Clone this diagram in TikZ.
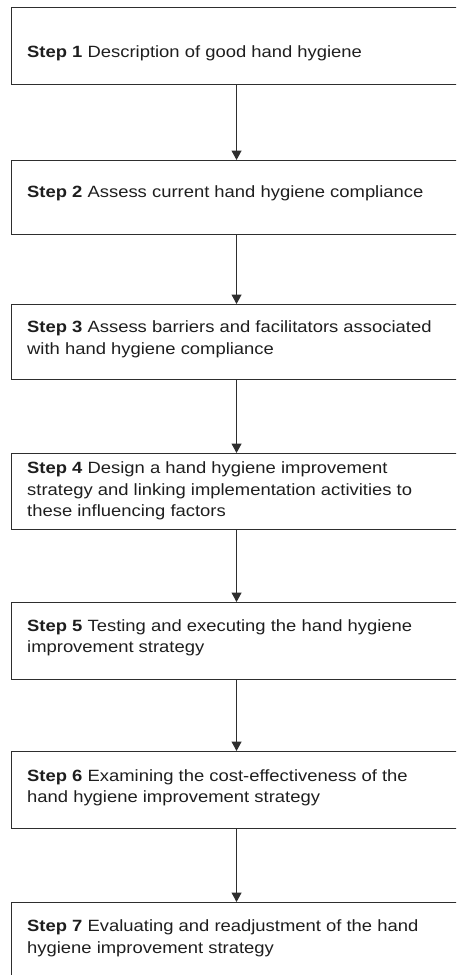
\documentclass[tikz,border=0pt]{standalone}
\usepackage{fontspec}
\setmainfont{Liberation Sans}[FakeStretch=1.13]
\usetikzlibrary{arrows.meta}
\definecolor{ink}{HTML}{1E1E1E}
\definecolor{edge}{HTML}{2E2E2E}
\begin{document}
\begin{tikzpicture}[x=1pt,y=-1pt,
  stepbox/.style={draw=edge,line width=1.1pt,rectangle,anchor=north west,minimum width=450pt,inner sep=0pt},
  steptext/.style={anchor=base west,inner sep=0pt,align=left,text=ink,font=\fontsize{16.3pt}{21.5pt}\selectfont},
  flow/.style={draw=edge,line width=1.1pt,-{Triangle[width=10pt,length=9.5pt]}}]
\useasboundingbox (0,0) rectangle (456,975);
\clip (0,0) rectangle (456,975);
\node[stepbox,minimum height=77pt] (b1) at (11,7) {};
\node[stepbox,minimum height=74pt] (b2) at (11,160) {};
\node[stepbox,minimum height=75pt] (b3) at (11,304) {};
\node[stepbox,minimum height=76pt] (b4) at (11,453) {};
\node[stepbox,minimum height=77pt] (b5) at (11,602) {};
\node[stepbox,minimum height=77pt] (b6) at (11,751) {};
\node[stepbox,minimum height=90pt] (b7) at (11,902) {};
% base anchor of a multi-line node is the baseline of its last line
\node[steptext] (t1) at (27,57.3) {\textbf{Step 1} Description of good hand hygiene};
\node[steptext] (t2) at (27,197.3) {\textbf{Step 2} Assess current hand hygiene compliance};
\node[steptext] (t3) at (27,354) {\textbf{Step 3} Assess barriers and facilitators associated\\with hand hygiene compliance};
\node[steptext] (t4) at (27,516.7) {\textbf{Step 4} Design a hand hygiene improvement\\strategy and linking implementation activities to\\these influencing factors};
\node[steptext] (t5) at (27,652.7) {\textbf{Step 5} Testing and executing the hand hygiene\\improvement strategy};
\node[steptext] (t6) at (27,802.7) {\textbf{Step 6} Examining the cost-effectiveness of the\\hand hygiene improvement strategy};
\node[steptext] (t7) at (27,953.3) {\textbf{Step 7} Evaluating and readjustment of the hand\\hygiene improvement strategy};
\draw[flow] (b1.south) -- (b2.north);
\draw[flow] (b2.south) -- (b3.north);
\draw[flow] (b3.south) -- (b4.north);
\draw[flow] (b4.south) -- (b5.north);
\draw[flow] (b5.south) -- (b6.north);
\draw[flow] (b6.south) -- (b7.north);
\end{tikzpicture}
\end{document}
